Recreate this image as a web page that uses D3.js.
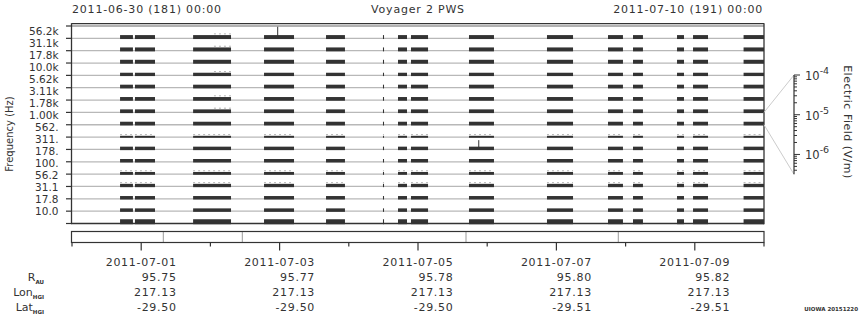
<!DOCTYPE html>
<meta charset="utf-8">
<body style="margin:0; background:#fff;">
<script src="https://cdn.jsdelivr.net/npm/d3@7"></script>
<svg id="chart" width="860" height="320"></svg>
<script>
// channel centre frequencies, top to bottom
var channels = ["56.2k","31.1k","17.8k","10.0k","5.62k","3.11k","1.78k","1.00k",
                "562.","311.","178.","100.","56.2","31.1","17.8","10.0"];
// typical field level seen in each channel (V/m)
var levels = [2.0e-6, 2.0e-6, 2.0e-6, 1.5e-6, 1.8e-6, 1.8e-6, 1.8e-6, 1.8e-6,
              0.8e-6, 1.6e-6, 1.6e-6, 1.2e-6, 1.5e-6, 1.6e-6, 1.6e-6, 3.2e-6];
// intervals with data (UTC)
var segStart = ["2011-06-30T16:40","2011-06-30T21:50","2011-07-01T18:00","2011-07-02T18:36",
                "2011-07-03T16:06","2011-07-04T11:51","2011-07-04T17:04","2011-07-04T21:34",
                "2011-07-05T17:41","2011-07-06T20:44","2011-07-07T17:54","2011-07-08T02:34",
                "2011-07-08T17:50","2011-07-08T23:23","2011-07-09T16:55"];
var segEnd   = ["2011-06-30T21:08","2011-07-01T04:47","2011-07-02T07:09","2011-07-03T05:00",
                "2011-07-03T22:40","2011-07-04T12:13","2011-07-04T20:11","2011-07-05T03:29",
                "2011-07-06T02:21","2011-07-07T05:46","2011-07-07T23:05","2011-07-08T06:01",
                "2011-07-08T20:15","2011-07-09T04:35","2011-07-10T00:00"];
// channels with a weaker dotted trace on top of every interval
var dottedAll = [8, 11, 12];
// channels with a dotted trace only in the 07-01/07-02 interval
var dottedSeg2 = [0, 1, 3, 5, 6];
// isolated spikes
var spikeTime = ["2011-07-02T23:10", "2011-07-05T20:54"];
var spikeChan = [0, 9];
var spikeLevel = [7e-5, 2.4e-5];
// markers in the lower strip
var markerTimes = ["2011-07-01T07:40","2011-07-02T11:04","2011-07-05T16:39","2011-07-07T21:28"];
// ephemeris table
var labelDays = ["2011-07-01","2011-07-03","2011-07-05","2011-07-07","2011-07-09"];
var rAU = ["95.75","95.77","95.78","95.80","95.82"];
var lonHGI = ["217.13","217.13","217.13","217.13","217.13"];
var latHGI = ["-29.50","-29.50","-29.50","-29.51","-29.51"];
var fieldTicks = [1e-4, 1e-5, 1e-6];

var svg = d3.select("#chart");
var font = "DejaVu Sans";
var dark = "#333";
var parse = d3.utcParse("%Y-%m-%dT%H:%M");
var parseDay = d3.utcParse("%Y-%m-%d");

var left = 72, right = 764;
var x = d3.scaleUtc()
    .domain([parseDay("2011-06-30"), parseDay("2011-07-10")])
    .range([left, right]);
var y = d3.scaleBand().domain(channels).range([26, 223.5]);
var yLab = d3.scalePoint().domain(channels).range([30.8, 210.8]);
var fmin = Math.pow(10, -6.5), fmax = 1e-4;
var h = d3.scaleLog().domain([fmin, fmax]).range([0, y.bandwidth()]);
var base = function(c) { return y(c) + y.bandwidth(); };

// header
svg.append("text").attr("x", left).attr("y", 13).text("2011-06-30 (181) 00:00")
    .attr("font-family", font).attr("font-size", 11).attr("letter-spacing", 0.8).attr("fill", dark);
svg.append("text").attr("x", (left + right) / 2).attr("y", 13).text("Voyager 2 PWS")
    .attr("text-anchor", "middle")
    .attr("font-family", font).attr("font-size", 11).attr("letter-spacing", 0.8).attr("fill", dark);
svg.append("text").attr("x", right - 1).attr("y", 13).text("2011-07-10 (191) 00:00")
    .attr("text-anchor", "end")
    .attr("font-family", font).attr("font-size", 11).attr("letter-spacing", 0.8).attr("fill", dark);

// baselines
svg.append("g").selectAll("line").data(channels.slice(0, 15)).join("line")
    .attr("x1", left).attr("x2", right)
    .attr("y1", function(c) { return base(c); }).attr("y2", function(c) { return base(c); })
    .attr("stroke", "#b8b8b8").attr("stroke-width", 1.3);
svg.append("line").attr("x1", left).attr("x2", right).attr("y1", 26).attr("y2", 26)
    .attr("stroke", "#999").attr("stroke-width", 1.3);

// data bars
var segs = segStart.map(function(s, i) { return {s: parse(s), e: parse(segEnd[i]), i: i}; });
var rows = svg.append("g");
channels.forEach(function(c, ci) {
  var bh = h(levels[ci]);
  rows.append("g").selectAll("rect").data(segs).join("rect")
      .attr("x", function(d) { return x(d.s); })
      .attr("width", function(d) { return Math.max(1, x(d.e) - x(d.s)); })
      .attr("y", base(c) + 0.7 - bh)
      .attr("height", bh)
      .attr("fill", dark);
  var dsegs = dottedAll.indexOf(ci) >= 0 ? segs : (dottedSeg2.indexOf(ci) >= 0 ? [segs[2]] : []);
  rows.append("g").selectAll("line").data(dsegs).join("line")
      .attr("x1", function(d) { return d.i == 2 && dottedAll.indexOf(ci) < 0 ? x(d.s) + 0.55 * (x(d.e) - x(d.s)) : x(d.s); })
      .attr("x2", function(d) { return x(d.e); })
      .attr("y1", base(c) - bh - 0.5).attr("y2", base(c) - bh - 0.5)
      .attr("stroke", "#b5b5b5").attr("stroke-dasharray", "2,3");
});
svg.append("g").selectAll("line").data(spikeTime).join("line")
    .attr("x1", function(t) { return x(parse(t)) + 0.5; })
    .attr("x2", function(t) { return x(parse(t)) + 0.5; })
    .attr("y1", function(t, i) { return base(channels[spikeChan[i]]); })
    .attr("y2", function(t, i) { return base(channels[spikeChan[i]]) - h(spikeLevel[i]); })
    .attr("stroke", dark);

// frame
svg.append("line").attr("x1", left - 0.5).attr("x2", right).attr("y1", 23.7).attr("y2", 23.7)
    .attr("stroke", dark).attr("stroke-width", 1.2);
svg.append("line").attr("x1", left - 0.5).attr("x2", right).attr("y1", 223.5).attr("y2", 223.5)
    .attr("stroke", dark).attr("stroke-width", 1.3);
svg.append("line").attr("x1", left - 0.5).attr("x2", left - 0.5).attr("y1", 23.2).attr("y2", 224.2)
    .attr("stroke", dark).attr("stroke-width", 1.3);
svg.append("line").attr("x1", right).attr("x2", right).attr("y1", 23.2).attr("y2", 224.2)
    .attr("stroke", dark).attr("stroke-width", 1.3);

// frequency axis
var fTicks = [26].concat(channels.map(base));
svg.append("g").selectAll("line").data(fTicks).join("line")
    .attr("x1", left - 6).attr("x2", left - 0.5)
    .attr("y1", function(d) { return d; }).attr("y2", function(d) { return d; })
    .attr("stroke", dark).attr("stroke-width", 1.2);
svg.append("g").selectAll("text").data(channels).join("text")
    .attr("x", 58.5).attr("y", function(c) { return yLab(c); })
    .attr("dy", "0.36em").attr("text-anchor", "end")
    .attr("font-family", font).attr("font-size", 10.5).attr("fill", dark)
    .text(function(c) { return c; });
svg.append("text").attr("transform", "translate(13,134) rotate(-90)")
    .attr("text-anchor", "middle").attr("font-family", font).attr("font-size", 10)
    .attr("fill", dark).text("Frequency (Hz)");

// field scale and connector
var fAxisX = 794;
var fy = d3.scaleLog().domain([fmin, fmax]).range([174.3, 75]);
var conn = channels[7];
svg.append("line").attr("x1", right).attr("y1", y(conn)).attr("x2", fAxisX).attr("y2", fy(fmax))
    .attr("stroke", "#ccc");
svg.append("line").attr("x1", right).attr("y1", base(conn)).attr("x2", fAxisX).attr("y2", fy(fmin))
    .attr("stroke", "#ccc");
svg.append("line").attr("x1", fAxisX).attr("x2", fAxisX).attr("y1", fy(fmax)).attr("y2", fy(fmin))
    .attr("stroke", dark).attr("stroke-width", 1.2);
var minor = fy.ticks().filter(function(v) { return v >= fmin && v <= fmax; });
svg.append("g").selectAll("line").data(minor).join("line")
    .attr("x1", fAxisX).attr("y1", function(v) { return fy(v); }).attr("y2", function(v) { return fy(v); })
    .attr("x2", function(v) { return fieldTicks.indexOf(v) >= 0 ? fAxisX + 6 : fAxisX + 3; })
    .attr("stroke", dark);
var fl = svg.append("g").selectAll("text").data(fieldTicks).join("text")
    .attr("x", fAxisX + 11).attr("y", function(v) { return fy(v) + 5; })
    .attr("font-family", font).attr("font-size", 11.5).attr("fill", dark);
fl.append("tspan").text("10");
fl.append("tspan").attr("dy", -6).attr("font-size", 9.5)
    .text(function(v) { return String(Math.round(Math.log10(v))); });
svg.append("text").attr("transform", "translate(844,122) rotate(90)")
    .attr("text-anchor", "middle").attr("font-family", font).attr("font-size", 11)
    .attr("letter-spacing", 0.5).attr("fill", dark).text("Electric Field (V/m)");

// lower strip
var stripTop = 231.5, stripBot = 242.5;
svg.append("g").selectAll("line").data(markerTimes).join("line")
    .attr("x1", function(t) { return x(parse(t)); }).attr("x2", function(t) { return x(parse(t)); })
    .attr("y1", stripTop).attr("y2", stripBot).attr("stroke", "#999");
svg.append("rect").attr("x", left - 0.5).attr("y", stripTop).attr("width", right - left + 0.5)
    .attr("height", stripBot - stripTop).attr("fill", "none").attr("stroke", dark).attr("stroke-width", 1.2);
var days = d3.utcDay.range(parseDay("2011-06-30"), d3.utcDay.offset(parseDay("2011-07-10"), 1));
var labelled = labelDays.map(function(d) { return +parseDay(d); });
svg.append("g").selectAll("line").data(days).join("line")
    .attr("x1", function(d) { return x(d); }).attr("x2", function(d) { return x(d); })
    .attr("y1", stripBot)
    .attr("y2", function(d) { return labelled.indexOf(+d) >= 0 ? 250.5 : 246.5; })
    .attr("stroke", dark).attr("stroke-width", 1.2);

// ephemeris table
var rowsY = [266, 281, 296, 311];
labelDays.forEach(function(d, i) {
  var cx = x(parseDay(d));
  var t = svg.append("text").attr("x", cx).attr("y", rowsY[0]).attr("text-anchor", "middle")
      .attr("font-family", font).attr("font-size", 11).attr("letter-spacing", 0.7)
      .attr("fill", dark).text(d);
  var rEdge = cx + t.node().getComputedTextLength() / 2;
  [rAU[i], lonHGI[i], latHGI[i]].forEach(function(v, j) {
    svg.append("text").attr("x", rEdge).attr("y", rowsY[j + 1]).attr("text-anchor", "end")
        .attr("font-family", font).attr("font-size", 11).attr("letter-spacing", 0.7)
        .attr("fill", dark).text(v);
  });
});
var rowNames = [["R", "AU"], ["Lon", "HGI"], ["Lat", "HGI"]];
rowNames.forEach(function(n, j) {
  var t = svg.append("text").attr("x", 44).attr("y", rowsY[j + 1]).attr("text-anchor", "end")
      .attr("font-family", font).attr("font-size", 11).attr("fill", dark);
  t.append("tspan").text(n[0]);
  t.append("tspan").attr("dy", 3).attr("font-size", 5.5).attr("font-weight", "bold").text(n[1]);
});
svg.append("text").attr("x", 858).attr("y", 311).attr("text-anchor", "end")
    .attr("font-family", font).attr("font-size", 5.5).attr("font-weight", "bold")
    .attr("fill", dark).text("UIOWA 20151220");
</script>
</body>
